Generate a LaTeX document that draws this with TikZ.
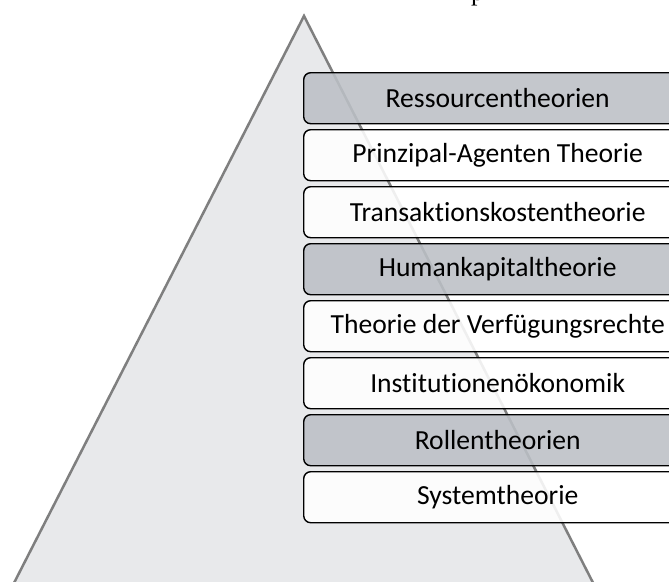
\documentclass[tikz,border=0pt]{standalone}
\usepackage{fontspec}
\setmainfont{Carlito}[Ligatures={NoCommon}]
\newfontfamily\serifface{Liberation Serif}
\definecolor{trifill}{HTML}{E8E9EB}
\definecolor{triline}{HTML}{7F7F7F}
\definecolor{boxgray}{HTML}{BCC0C6}
\begin{document}
\begin{tikzpicture}[x=1pt,y=-1pt,
  layer/.style={draw=black, line width=1.4pt, rounded corners=7pt,
    fill opacity=0.88, text opacity=1, minimum width=388pt, minimum height=51pt,
    anchor=north west, inner sep=0pt, font=\fontsize{27.6}{31}\selectfont},
  graylayer/.style={layer, fill=boxgray},
  whitelayer/.style={layer, fill=white}]
\useasboundingbox (0,0) rectangle (669,581);
\fill[white] (0,0) rectangle (669,581);
% pyramid
\draw[draw=triline, fill=trifill, line width=2.5pt, line join=miter]
  (304,16) -- (5.3,600) -- (601.8,600) -- cycle;
% cut-off title letter
\node[anchor=base west, inner sep=0pt, font=\serifface\fontsize{26}{30}\selectfont] (title) at (471,0.5) {p};
% layers
\node[graylayer]  (b1) at (303,72)  {Ressourcentheorien};
\node[whitelayer] (b2) at (303,129) {Prinzipal-Agenten Theorie};
\node[whitelayer] (b3) at (303,186) {Transaktionskostentheorie};
\node[graylayer]  (b4) at (303,243) {Humankapitaltheorie};
\node[whitelayer] (b5) at (303,300) {Theorie der Verfügungsrechte};
\node[whitelayer] (b6) at (303,357) {Institutionenökonomik};
\node[graylayer]  (b7) at (303,414) {Rollentheorien};
\node[whitelayer] (b8) at (303,471) {Systemtheorie};
\end{tikzpicture}
\end{document}
